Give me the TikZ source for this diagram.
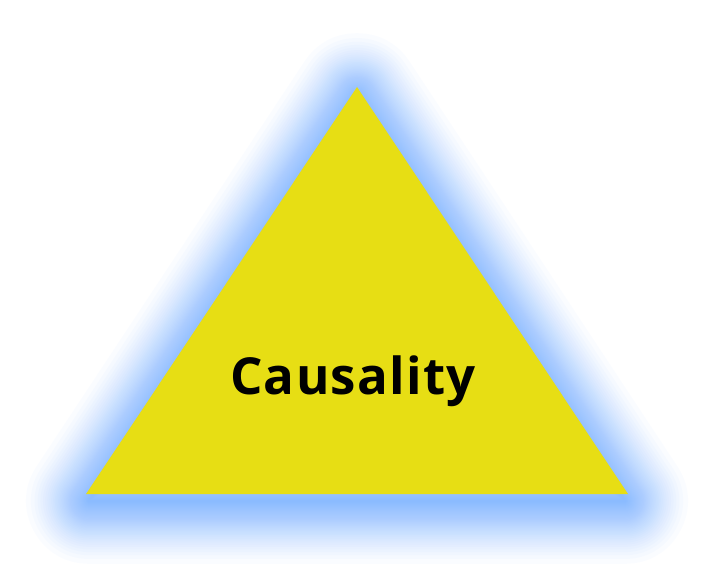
\documentclass[tikz,border=0pt]{standalone}
\usepackage{fontspec}
\setmainfont{Open Sans}[LetterSpace=2.5]
\definecolor{triyellow}{RGB}{231,222,20}
\definecolor{glowblue}{RGB}{110,175,255}
\tikzset{
  glowlayer/.style={draw=glowblue, line join=round, draw opacity=0.032},
  tri/.style={fill=triyellow, draw=none},
  label/.style={font=\bfseries\fontsize{51}{57}\selectfont, text=black, inner sep=0pt}
}
\begin{document}
\begin{tikzpicture}[x=1pt,y=1pt]
\useasboundingbox (0,0) rectangle (715,-581);
\fill[white] (0,0) rectangle (715,-581);
\foreach \k in {1,...,40} {
  \pgfmathsetmacro\w{2*74*(1-sqrt(\k/40))+1}
  \draw[glowlayer, line width=\w pt] (357,-96) -- (89,-501) -- (625,-501) -- cycle;
}
\coordinate (apex) at (357,-87);
\coordinate (bl) at (86,-494);
\coordinate (br) at (628,-494);
\fill[tri] (apex) -- (bl) -- (br) -- cycle;
\node[label, anchor=base] (txt) at (353,-394) {Causality};
\end{tikzpicture}
\end{document}
